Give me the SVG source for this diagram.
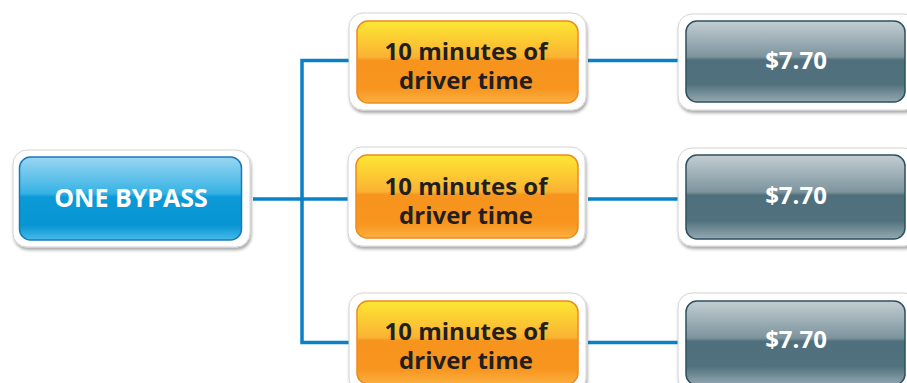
<svg xmlns="http://www.w3.org/2000/svg" width="907" height="383" viewBox="0 0 907 383">
<style>
.outer{fill:#fff;stroke:#d4d4d4;stroke-width:1;filter:url(#sh)}
.conn{fill:none;stroke:#0a80c6;stroke-width:3.5}
.blue{fill:url(#gBlue);stroke:#1b78b8;stroke-width:1.5}
.orange{fill:url(#gOrange);stroke:#ef8a1c;stroke-width:1.5}
.gray{fill:url(#gGray);stroke:#2c5060;stroke-width:1.5}
text{font-family:"Open Sans","Liberation Sans",sans-serif;font-weight:bold;text-anchor:middle}
.lt{fill:#ffffff;font-size:24px}
.dk{fill:#231f20;font-size:24px}
</style>
<defs>
<filter id="sh" x="-10%" y="-10%" width="120%" height="130%">
<feDropShadow dx="1" dy="2.5" stdDeviation="1.8" flood-color="#000" flood-opacity="0.35"/>
</filter>
<linearGradient id="gBlue" x1="0" y1="0" x2="0" y2="1">
<stop offset="0" stop-color="#9ad6f2"/>
<stop offset="0.44" stop-color="#35b2e4"/>
<stop offset="0.48" stop-color="#0c9ad7"/>
<stop offset="0.82" stop-color="#0795d3"/>
<stop offset="1" stop-color="#48bbe8"/>
</linearGradient>
<linearGradient id="gOrange" x1="0" y1="0" x2="0" y2="1">
<stop offset="0" stop-color="#fde733"/>
<stop offset="0.44" stop-color="#fab233"/>
<stop offset="0.48" stop-color="#f7941d"/>
<stop offset="0.82" stop-color="#f7951f"/>
<stop offset="1" stop-color="#fbb040"/>
</linearGradient>
<linearGradient id="gGray" x1="0" y1="0" x2="0" y2="1">
<stop offset="0" stop-color="#c3ced3"/>
<stop offset="0.44" stop-color="#7d949d"/>
<stop offset="0.48" stop-color="#4f6f7c"/>
<stop offset="0.78" stop-color="#51717e"/>
<stop offset="1" stop-color="#95a9b0"/>
</linearGradient>
</defs>

<g id="connectors">
<path class="conn" d="M253,199 H349"/>
<path class="conn" d="M349,60.5 H302 V342.5 H349"/>
<path class="conn" d="M588,60.5 H678"/>
<path class="conn" d="M588,199 H678"/>
<path class="conn" d="M588,342.5 H678"/>
</g>

<g id="one-bypass">
<rect class="outer" x="13" y="150" width="237" height="97" rx="14"/>
<rect class="blue" x="19.5" y="157" width="222" height="83" rx="11"/>
<text class="lt" x="131" y="207" style="font-size:25px">ONE BYPASS</text>
</g>

<g id="time-1">
<rect class="outer" x="349" y="13" width="237" height="97" rx="14"/>
<rect class="orange" x="357" y="21" width="221" height="82" rx="11"/>
<text class="dk" x="466" y="60">10 minutes of<tspan x="466" dy="29">driver time</tspan></text>
</g>

<g id="time-2">
<rect class="outer" x="348" y="147" width="237" height="99" rx="14"/>
<rect class="orange" x="356" y="155" width="222" height="83" rx="11"/>
<text class="dk" x="466" y="195">10 minutes of<tspan x="466" dy="29">driver time</tspan></text>
</g>

<g id="time-3">
<rect class="outer" x="349" y="293" width="237" height="99" rx="14"/>
<rect class="orange" x="357" y="301" width="221" height="83" rx="11"/>
<text class="dk" x="466" y="340">10 minutes of<tspan x="466" dy="29">driver time</tspan></text>
</g>

<g id="cost-1">
<rect class="outer" x="678" y="14" width="240" height="96" rx="14"/>
<rect class="gray" x="686" y="21" width="219" height="81" rx="11"/>
<text class="lt" x="796" y="69">$7.70</text>
</g>

<g id="cost-2">
<rect class="outer" x="678" y="148" width="240" height="98" rx="14"/>
<rect class="gray" x="686" y="155" width="219" height="84" rx="11"/>
<text class="lt" x="796" y="204">$7.70</text>
</g>

<g id="cost-3">
<rect class="outer" x="678" y="293" width="240" height="99" rx="14"/>
<rect class="gray" x="686" y="301" width="219" height="84" rx="11"/>
<text class="lt" x="796" y="348">$7.70</text>
</g>
</svg>
